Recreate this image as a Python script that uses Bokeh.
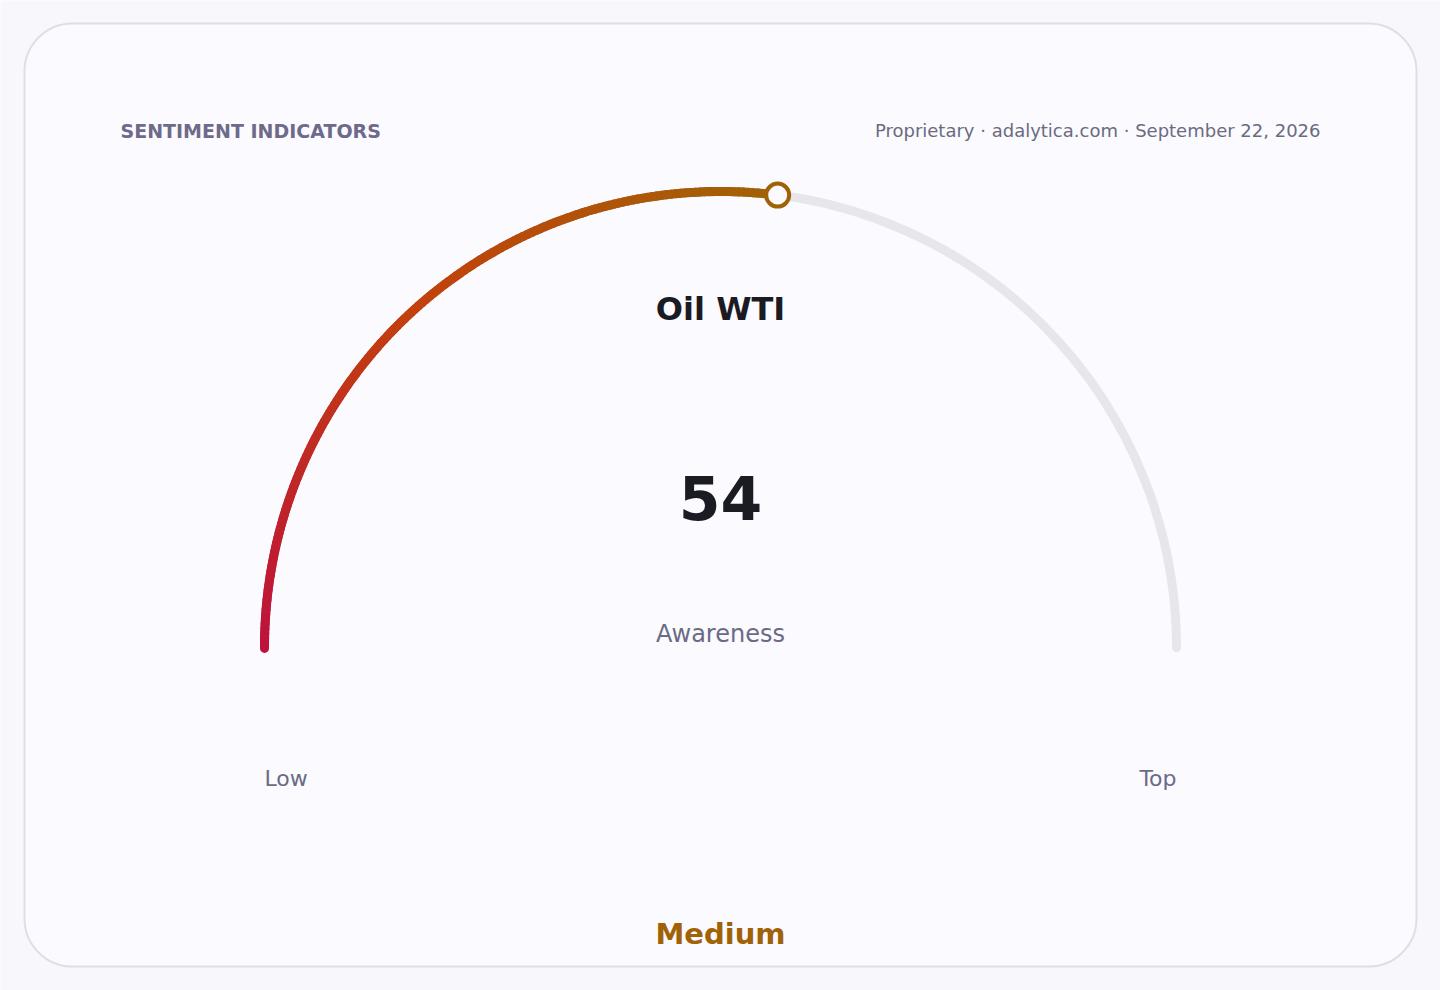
import numpy as np
from bokeh.plotting import figure
from bokeh.models import Range1d, BoxAnnotation, ColumnDataSource
from bokeh.core.properties import value as val
from bokeh.embed import file_html
from bokeh.resources import INLINE

# gauge data
title = "Oil WTI"
metric = "Awareness"
value = 54
vmin, vmax = 0, 100
band = "Medium"
end_labels = ["Low", "Top"]
header_left = "SENTIMENT INDICATORS"
header_right = "Proprietary · adalytica.com · September 22, 2026"

# colour stops of the value arc (start -> end)
stops = ["#be123c", "#c2410c", "#a16207"]
track_color = "#e6e6eb"
band_color = "#a16207"
bg = "#f8f8fc"

R = 456      # gauge radius (1 unit = 1 px)
FONT = val("DejaVu Sans")

p = figure(width=1440, height=990, output_backend="svg", toolbar_location=None,
           x_range=Range1d(-720, 720), y_range=Range1d(-343, 647),
           min_border=0, tools="")
p.axis.visible = False
p.grid.grid_line_color = None
p.outline_line_color = None
p.background_fill_color = bg
p.border_fill_color = bg

# card
p.add_layout(BoxAnnotation(left=-696, right=696, top=624, bottom=-319,
                           fill_color="#fafaff", fill_alpha=1,
                           line_color="#dedeea", line_alpha=1, line_width=2,
                           border_radius=48, level="underlay"))

# track
p.arc(x=0, y=0, radius=R, start_angle=0, end_angle=np.pi,
      line_color=track_color, line_width=9, line_cap="round")


def hex2rgb(h):
    return np.array([int(h[i:i + 2], 16) for i in (1, 3, 5)], dtype=float)


def grad(t):
    pos = np.linspace(0, 1, len(stops))
    rgb = [hex2rgb(s) for s in stops]
    out = []
    for tt in t:
        k = min(np.searchsorted(pos, tt, side="right") - 1, len(stops) - 2)
        f = (tt - pos[k]) / (pos[k + 1] - pos[k])
        c = rgb[k] * (1 - f) + rgb[k + 1] * f
        out.append("#%02x%02x%02x" % tuple(int(round(v)) for v in c))
    return out


# value arc, drawn as short pieces to get the gradient
frac = (value - vmin) / (vmax - vmin)
a_end = np.pi * (1 - frac)
n = 160
edges = np.linspace(np.pi, a_end, n + 1)
src = ColumnDataSource(dict(
    start=edges[1:], end=edges[:-1] + 0.002,
    color=grad(np.linspace(0, 1, n)),
))
p.arc(x=0, y=0, radius=R, start_angle="start", end_angle="end", source=src,
      line_color="color", line_width=9, line_cap="round")

# marker
p.scatter([R * np.cos(a_end)], [R * np.sin(a_end)], size=23,
          fill_color="#fafaff", line_color=stops[-1], line_width=4)

# texts
p.text([-600], [517], text=[header_left], text_font=FONT, text_font_size="19px",
       text_font_style="bold", text_color="#6e6a8a", text_baseline="middle")
p.text([600], [517], text=[header_right], text_font=FONT, text_font_size="18px",
       text_color="#6b6b80", text_baseline="middle", text_align="right")
p.text([0], [339], text=[title], text_font=FONT, text_font_size="32px",
       text_font_style="bold", text_color="#1b1b24", text_baseline="middle",
       text_align="center")
p.text([0], [150], text=[str(value)], text_font=FONT, text_font_size="60px",
       text_font_style="bold", text_color="#1b1b24", text_baseline="middle",
       text_align="center")
p.text([0], [14], text=[metric], text_font=FONT, text_font_size="24px",
       text_color="#6b6b85", text_baseline="middle", text_align="center")
p.text([-R, R], [-131, -131], text=end_labels, text_font=FONT,
       text_font_size="22px", text_color="#6b6b85", text_baseline="middle",
       text_align=["left", "right"])
p.text([0], [-286], text=[band], text_font=FONT, text_font_size="29px",
       text_font_style="bold", text_color=band_color, text_baseline="middle",
       text_align="center")

open("out.html", "w").write(file_html(p, INLINE))
